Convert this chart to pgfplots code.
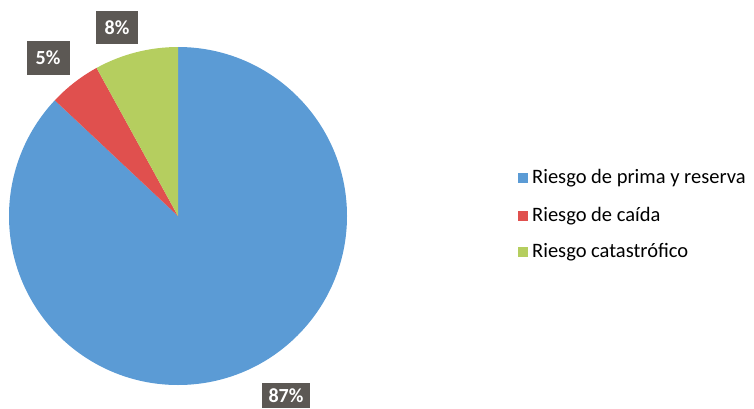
\documentclass[border=0pt]{standalone}
\usepackage{fontspec}
\setmainfont{Carlito}
\usepackage{pgfplots}
\usepackage{pgfplotstable}
\pgfplotsset{compat=1.18}
\definecolor{cblue}{RGB}{91,155,213}
\definecolor{cred}{RGB}{224,80,78}
\definecolor{cgreen}{RGB}{181,206,95}
\definecolor{cbox}{RGB}{92,88,84}

\pgfplotstableread{
label value
prima 87
caida 5
cat 8
}\piedata

\begin{document}
\begin{tikzpicture}
\begin{axis}[scale only axis, width=754pt, height=408pt,
  xmin=0, xmax=754, ymin=0, ymax=408, hide axis, clip=false]
\pgfplotstablegetelem{0}{value}\of\piedata \edef\va{\pgfplotsretval}
\pgfplotstablegetelem{1}{value}\of\piedata \edef\vb{\pgfplotsretval}
\pgfplotstablegetelem{2}{value}\of\piedata \edef\vc{\pgfplotsretval}
\pgfmathsetmacro{\aA}{90}
\pgfmathsetmacro{\aB}{90-3.6*\va}
\pgfmathsetmacro{\aC}{\aB-3.6*\vb}
\pgfmathsetmacro{\aD}{\aC-3.6*\vc}
\path (rel axis cs:0,0) rectangle (rel axis cs:1,1);
\fill[cblue] (axis cs:178,192) -- ++(\aA:169pt) arc[start angle=\aA, end angle=\aB, radius=169pt] -- cycle;
\fill[cred] (axis cs:178,192) -- ++(\aB:169pt) arc[start angle=\aB, end angle=\aC, radius=169pt] -- cycle;
\fill[cgreen] (axis cs:178,192) -- ++(\aC:169pt) arc[start angle=\aC, end angle=\aD, radius=169pt] -- cycle;
% data labels
\node[fill=cbox, text=white, font=\bfseries\fontsize{20}{20}\selectfont, minimum width=42pt, minimum height=33pt, inner sep=0pt] at (axis cs:117,380) {\vc\%};
\node[fill=cbox, text=white, font=\bfseries\fontsize{20}{20}\selectfont, minimum width=43pt, minimum height=34pt, inner sep=0pt] at (axis cs:48,350) {\vb\%};
\fill[cbox] (axis cs:262,0) rectangle (axis cs:310,25);
\node[text=white, font=\bfseries\fontsize{20}{20}\selectfont, inner sep=0pt] at (axis cs:286,12) {\va\%};
% legend
\fill[cblue] (axis cs:518,225) rectangle (axis cs:528,235);
\node[anchor=west, font=\fontsize{20.5}{20.5}\selectfont, inner sep=0pt] at (axis cs:532,230) {Riesgo de prima y reserva};
\fill[cred] (axis cs:518,187) rectangle (axis cs:528,197);
\node[anchor=west, font=\fontsize{20.5}{20.5}\selectfont, inner sep=0pt] at (axis cs:532,192) {Riesgo de caída};
\fill[cgreen] (axis cs:518,151) rectangle (axis cs:528,161);
\node[anchor=west, font=\fontsize{20.5}{20.5}\selectfont, inner sep=0pt] at (axis cs:532,156) {Riesgo catastrófico};
\end{axis}
\end{tikzpicture}
\end{document}
